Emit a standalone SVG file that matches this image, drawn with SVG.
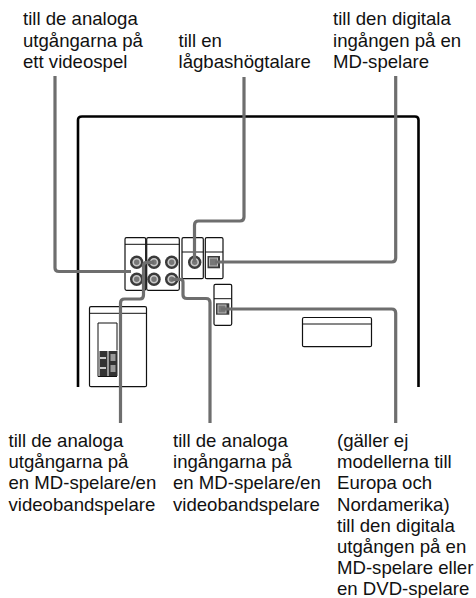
<svg xmlns="http://www.w3.org/2000/svg" width="476" height="598" viewBox="0 0 476 598">
<style>
text{font-family:"Liberation Sans",Arial,sans-serif;font-size:18.6px;fill:#111}
.t{fill:#fff;stroke:#111;stroke-width:1.2}
.l{fill:none;stroke:#111;stroke-width:1}
.c{fill:none;stroke:#6e6e6e;stroke-width:3.2;stroke-linejoin:round}
.o{fill:#3a3a3a}
.i{fill:#777;stroke:#c8c8c8;stroke-width:1.6}
</style>
<rect width="476" height="598" fill="#fff"/>
<g id="chassis"><path d="M78 387V120Q78 116.500 82 116.500H415Q418.500 116.500 418.500 120V387" fill="none" stroke="#000" stroke-width="2.600"/></g>
<g id="video-jacks">
<rect class="t" x="125" y="237.700" width="20.700" height="52.600" rx="1.500"/><path class="l" d="M125 244.300H145.700"/>
<circle class="o" cx="136.700" cy="262.300" r="6.700"/><circle class="i" cx="136.700" cy="262.300" r="3.500"/>
<circle class="o" cx="136.700" cy="279.300" r="6.700"/><circle class="i" cx="136.700" cy="279.300" r="3.500"/>
</g>
<g id="md-jacks">
<rect class="t" x="146.700" y="237.700" width="32.600" height="52.600" rx="1.500"/><path class="l" d="M146.700 244.300H179.300"/>
<circle class="o" cx="154" cy="262.300" r="6.700"/><circle class="i" cx="154" cy="262.300" r="3.500"/>
<circle class="o" cx="154" cy="279.300" r="6.700"/><circle class="i" cx="154" cy="279.300" r="3.500"/>
<circle class="o" cx="171.700" cy="262.300" r="6.700"/><circle class="i" cx="171.700" cy="262.300" r="3.500"/>
<circle class="o" cx="171.700" cy="279.300" r="6.700"/><circle class="i" cx="171.700" cy="279.300" r="3.500"/>
</g>
<g id="sub-jack">
<rect class="t" x="182" y="237.700" width="21.300" height="41" rx="1.500"/><path class="l" d="M182 252H203.300"/>
<circle class="o" cx="194.700" cy="262.300" r="6.700"/><circle class="i" cx="194.700" cy="262.300" r="3.500"/>
</g>
<g id="digital-in">
<rect class="t" x="205.300" y="237.700" width="17.700" height="41" rx="1.500"/><path class="l" d="M205.300 252H223"/>
<rect class="o" x="207.500" y="256" width="12.500" height="12.300"/><rect x="209.500" y="258" width="8" height="8" fill="#777" stroke="#bbb"/>
</g>
<g id="digital-out">
<rect class="t" x="214" y="284.300" width="17.700" height="41" rx="1.500"/><path class="l" d="M214 298.700H231.700"/>
<rect class="o" x="216" y="303.300" width="13.300" height="11.400"/><rect x="218" y="305" width="8" height="8" fill="#777" stroke="#bbb"/>
</g>
<g id="right-panel">
<rect class="t" x="302.500" y="317.500" width="69" height="29.200" rx="1.500"/><path class="l" d="M302.500 324H371.500"/>
</g>
<g id="left-panel">
<rect class="t" x="89.500" y="306.700" width="57" height="80" rx="1.500"/><path class="l" d="M89.500 313.300H146.500"/>
<path class="l" d="M117 350.500V323H98V376.500H117"/>
<rect x="99.500" y="351" width="8" height="25" fill="#333"/><rect x="108.500" y="351" width="9" height="25" fill="#333"/>
<path d="M100 358H106M100 368H106" stroke="#fff" stroke-width="1.500"/><rect x="110.500" y="354" width="5" height="7" fill="#999"/><rect x="110.500" y="365" width="5" height="7" fill="#999"/>
</g>
<g id="connectors">
<path class="c" d="M55 76V268Q55 271.500 59 271.500H131"/>
<path class="c" d="M194.500 262V225Q194.500 221 198.500 221H240Q244 221 244 217V77"/>
<path class="c" d="M215 262H391.700Q395.700 262 395.700 258V76"/>
<path class="c" d="M221 309H391.700Q395.700 309 395.700 313V423"/>
<path class="c" d="M120.500 423V303Q120.500 299 124.500 299H140Q143.500 299 143.500 295V266Q143.500 262.300 147 262.300H154"/>
<path class="c" d="M171.700 279.300H180Q183 279.300 183 282V295Q183 298.500 187 298.500H206Q210 298.500 210 302.500V423"/>
</g>
<g id="labels">
<text x="23" y="25">till de analoga</text><text x="23" y="47">utgångarna på</text><text x="23" y="68.300">ett videospel</text>
<text x="178.500" y="47">till en</text><text x="178.500" y="68.300">lågbashögtalare</text>
<text x="333" y="25">till den digitala</text><text x="333" y="47">ingången på en</text><text x="333" y="68.300">MD-spelare</text>
<text x="8.500" y="446.700">till de analoga</text><text x="8.500" y="468">utgångarna på</text><text x="8.500" y="489.300">en MD-spelare/en</text><text x="8.500" y="510.700">videobandspelare</text>
<text x="173" y="446.700">till de analoga</text><text x="173" y="468">ingångarna på</text><text x="173" y="489.300">en MD-spelare/en</text><text x="173" y="510.700">videobandspelare</text>
<text x="337" y="446.700">(gäller ej</text><text x="337" y="468">modellerna till</text><text x="337" y="489.300">Europa och</text><text x="337" y="510.700">Nordamerika)</text><text x="337" y="531.700">till den digitala</text><text x="337" y="553">utgången på en</text><text x="337" y="574">MD-spelare eller</text><text x="337" y="595">en DVD-spelare</text>
</g>
</svg>
